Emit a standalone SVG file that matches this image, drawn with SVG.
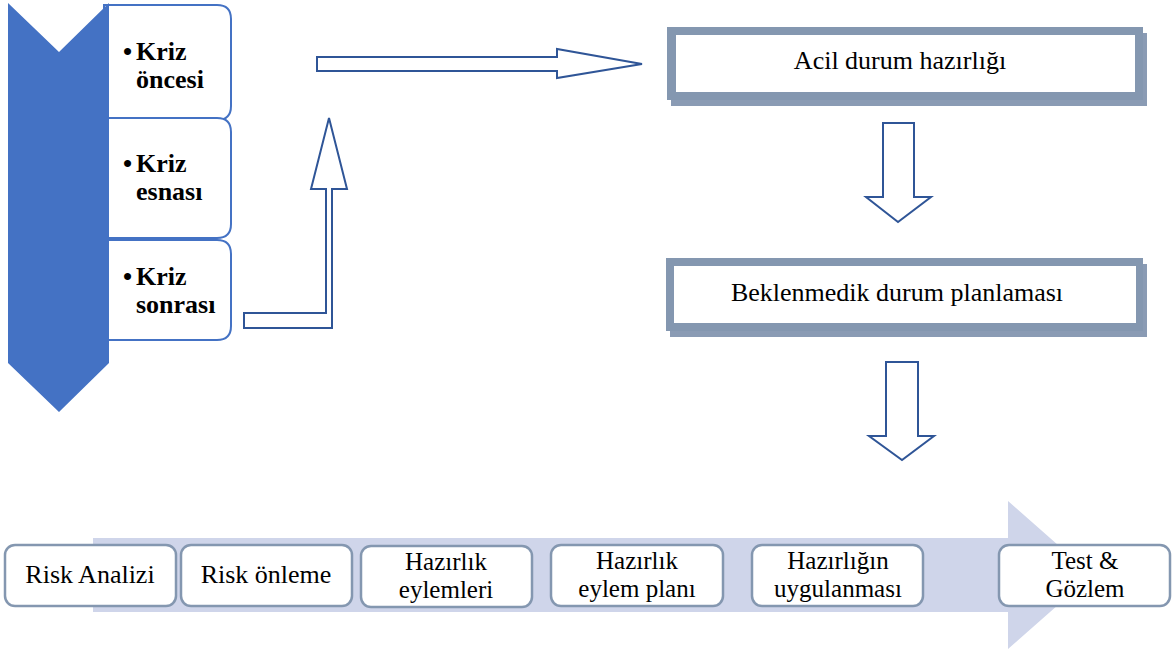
<svg xmlns="http://www.w3.org/2000/svg" width="1176" height="653" viewBox="0 0 1176 653">
<style>
.frame{fill:#8497B0}
.inner{fill:#FFFFFF}
.shadow{fill:#8A9BB4}
.conn{fill:#FFFFFF;stroke:#2F5597;stroke-width:2;stroke-linejoin:miter}
.phase{fill:#FFFFFF;stroke:#4472C4;stroke-width:2}
.step{fill:#FFFFFF;stroke:#8497B0;stroke-width:2.5}
.t{font-family:"Liberation Serif","Times New Roman",serif;font-size:26px;fill:#000000}
.s{font-size:25px}
.b{font-weight:bold}
.m{text-anchor:middle}
</style>
<rect width="1176" height="653" fill="#FFFFFF"/>

<!-- bottom process band -->
<g id="process-band">
<polygon points="93,538 1008,538 1008,501 1092,575 1008,649 1008,612 93,612" fill="#CFD5EA"/>
</g>

<!-- phase boxes -->
<g id="phase-1">
<path class="phase" d="M104,5 H217 Q231,5 231,19 V106 Q231,120 217,120 H104 Z"/>
<text class="t b" x="123" y="60">•<tspan x="136">Kriz</tspan><tspan x="136" dy="28">öncesi</tspan></text>
</g>
<g id="phase-2">
<path class="phase" d="M104,118 H217 Q231,118 231,132 V224 Q231,238 217,238 H104 Z"/>
<text class="t b" x="123" y="172">•<tspan x="136">Kriz</tspan><tspan x="136" dy="28">esnası</tspan></text>
</g>
<g id="phase-3">
<path class="phase" d="M104,240 H217 Q231,240 231,254 V326 Q231,340 217,340 H104 Z"/>
<text class="t b" x="123" y="285">•<tspan x="136">Kriz</tspan><tspan x="136" dy="28">sonrası</tspan></text>
</g>
<g id="chevron">
<polygon points="8,3 59,52 109,3 109,363 59,412 8,363" fill="#4472C4"/>
</g>

<!-- right column boxes -->
<g id="acil-durum">
<rect class="shadow" x="671" y="33" width="476" height="73"/>
<rect class="frame" x="667" y="27" width="476" height="73"/>
<rect class="inner" x="676" y="35" width="459" height="57"/>
<text class="t m" x="900" y="69">Acil durum hazırlığı</text>
</g>
<g id="beklenmedik">
<rect class="shadow" x="670" y="264" width="477" height="73"/>
<rect class="frame" x="666" y="258" width="477" height="73"/>
<rect class="inner" x="674" y="266" width="462" height="57"/>
<text class="t m" x="897" y="301">Beklenmedik durum planlaması</text>
</g>

<!-- steps -->
<g id="step-1">
<rect class="step" x="5" y="545" width="171" height="61" rx="10"/>
<text class="t m" x="90" y="583">Risk Analizi</text>
</g>
<g id="step-2">
<rect class="step" x="181" y="545" width="171" height="61" rx="10"/>
<text class="t m" x="266" y="583">Risk önleme</text>
</g>
<g id="step-3">
<rect class="step" x="361" y="546" width="171" height="61" rx="10"/>
<text class="t s m" x="446" y="570">Hazırlık</text>
<text class="t s m" x="446" y="598">eylemleri</text>
</g>
<g id="step-4">
<rect class="step" x="551" y="545" width="172" height="61" rx="10"/>
<text class="t s m" x="637" y="569">Hazırlık</text>
<text class="t s m" x="637" y="597">eylem planı</text>
</g>
<g id="step-5">
<rect class="step" x="752" y="545" width="171" height="61" rx="10"/>
<text class="t s m" x="838" y="569">Hazırlığın</text>
<text class="t s m" x="838" y="597">uygulanması</text>
</g>
<g id="step-6">
<rect class="step" x="999" y="545" width="171" height="61" rx="10"/>
<text class="t s m" x="1085" y="569">Test &amp;</text>
<text class="t s m" x="1085" y="597">Gözlem</text>
</g>

<!-- connectors -->
<g id="connectors">
<polygon class="conn" points="244,313 326,313 326,189 311,189 329,118 347,189 332,189 332,328 244,328"/>
<polygon class="conn" points="317,57 557,57 557,49 642,64 557,78 557,71 317,71"/>
<polygon class="conn" points="883,123 914,123 914,197 931,197 898,222 866,197 883,197"/>
<polygon class="conn" points="886,362 918,362 918,436 934,436 902,460 869,436 886,436"/>
</g>
</svg>
